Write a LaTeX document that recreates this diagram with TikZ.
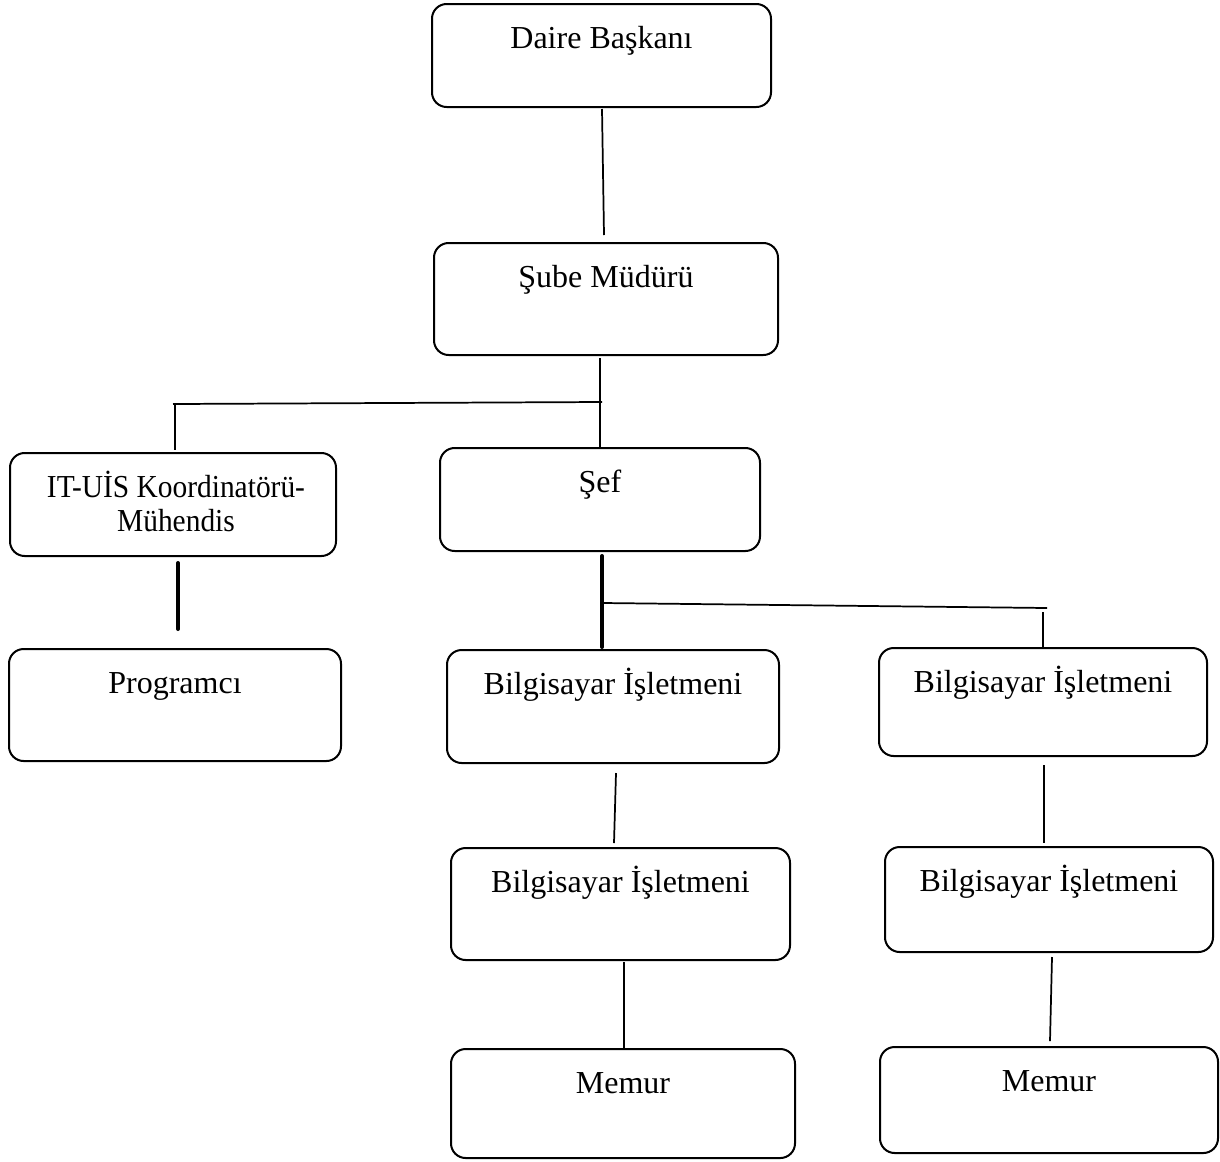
\documentclass[tikz,border=0pt]{standalone}
\usepackage{fontspec}
\setmainfont{Liberation Serif}
\newfontfamily\condserif[FakeStretch=0.92]{Liberation Serif}
\begin{document}
\begin{tikzpicture}[x=0.75pt,y=-0.75pt,
  box/.style={draw, line width=1.5pt, rounded corners=11pt, inner sep=0pt},
  txt/.style={anchor=base, inner sep=0pt, font=\fontsize{24}{27.75}\selectfont, align=center},
  conn/.style={line width=1.3pt},
  thickconn/.style={line width=3pt, line cap=round}]
\useasboundingbox (0,0) rectangle (1220,1161);
\newcommand{\orgbox}[6]{%
  \node[box, minimum width=#4*0.75pt, minimum height=#5*0.75pt] (#1) at (#2,#3) {};
  \node[txt] (#1t) at ([yshift=-45*0.75pt]#1.north) {#6};}
\orgbox{d}{601.5}{55.5}{339}{103}{Daire Başkanı}
\orgbox{s}{606}{299}{344}{112}{Şube Müdürü}
\node[box, minimum width=326*0.75pt, minimum height=103*0.75pt] (it) at (173,504.5) {};
\node[txt, font=\condserif\fontsize{24}{25.5}\selectfont] (itt) at ([xshift=3*0.75pt, yshift=-79*0.75pt]it.north) {IT-UİS Koordinatörü-\\Mühendis};
\orgbox{sef}{600}{499.5}{320}{103}{Şef}
\orgbox{p}{175}{705}{332}{112}{Programcı}
\orgbox{ba}{613}{706.5}{332}{113}{Bilgisayar İşletmeni}
\orgbox{bb}{1043}{702}{328}{108}{Bilgisayar İşletmeni}
\orgbox{bc}{620.5}{904}{339}{112}{Bilgisayar İşletmeni}
\orgbox{bd}{1049}{899.5}{328}{105}{Bilgisayar İşletmeni}
\orgbox{ma}{623}{1103.5}{344}{109}{Memur}
\orgbox{mb}{1049}{1100}{338}{106}{Memur}
% connector end points
\coordinate (c1a) at (602,109);  \coordinate (c1b) at (604,235);
\coordinate (c2a) at (600,358);  \coordinate (c2b) at (600,448);
\coordinate (c3a) at (173,404);  \coordinate (c3b) at (602,402);
\coordinate (c4a) at (175,405);  \coordinate (c4b) at (175,450);
\coordinate (c5a) at (178,563);  \coordinate (c5b) at (178,629);
\coordinate (c6a) at (602,556);  \coordinate (c6b) at (602,647);
\coordinate (c7a) at (603,603);  \coordinate (c7b) at (1047,608);
\coordinate (c8a) at (1043,612); \coordinate (c8b) at (1043,648);
\coordinate (c9a) at (616,773);  \coordinate (c9b) at (614,843);
\coordinate (c10a) at (1044,765); \coordinate (c10b) at (1044,843);
\coordinate (c11a) at (624,962); \coordinate (c11b) at (624,1049);
\coordinate (c12a) at (1052,957); \coordinate (c12b) at (1050,1041);
\draw[conn] (c1a) -- (c1b);
\draw[conn] (c2a) -- (c2b);
\draw[conn] (c3a) -- (c3b);
\draw[conn] (c4a) -- (c4b);
\draw[thickconn] (c5a) -- (c5b);
\draw[thickconn] (c6a) -- (c6b);
\draw[conn] (c7a) -- (c7b);
\draw[conn] (c8a) -- (c8b);
\draw[conn] (c9a) -- (c9b);
\draw[conn] (c10a) -- (c10b);
\draw[conn] (c11a) -- (c11b);
\draw[conn] (c12a) -- (c12b);
\end{tikzpicture}
\end{document}
